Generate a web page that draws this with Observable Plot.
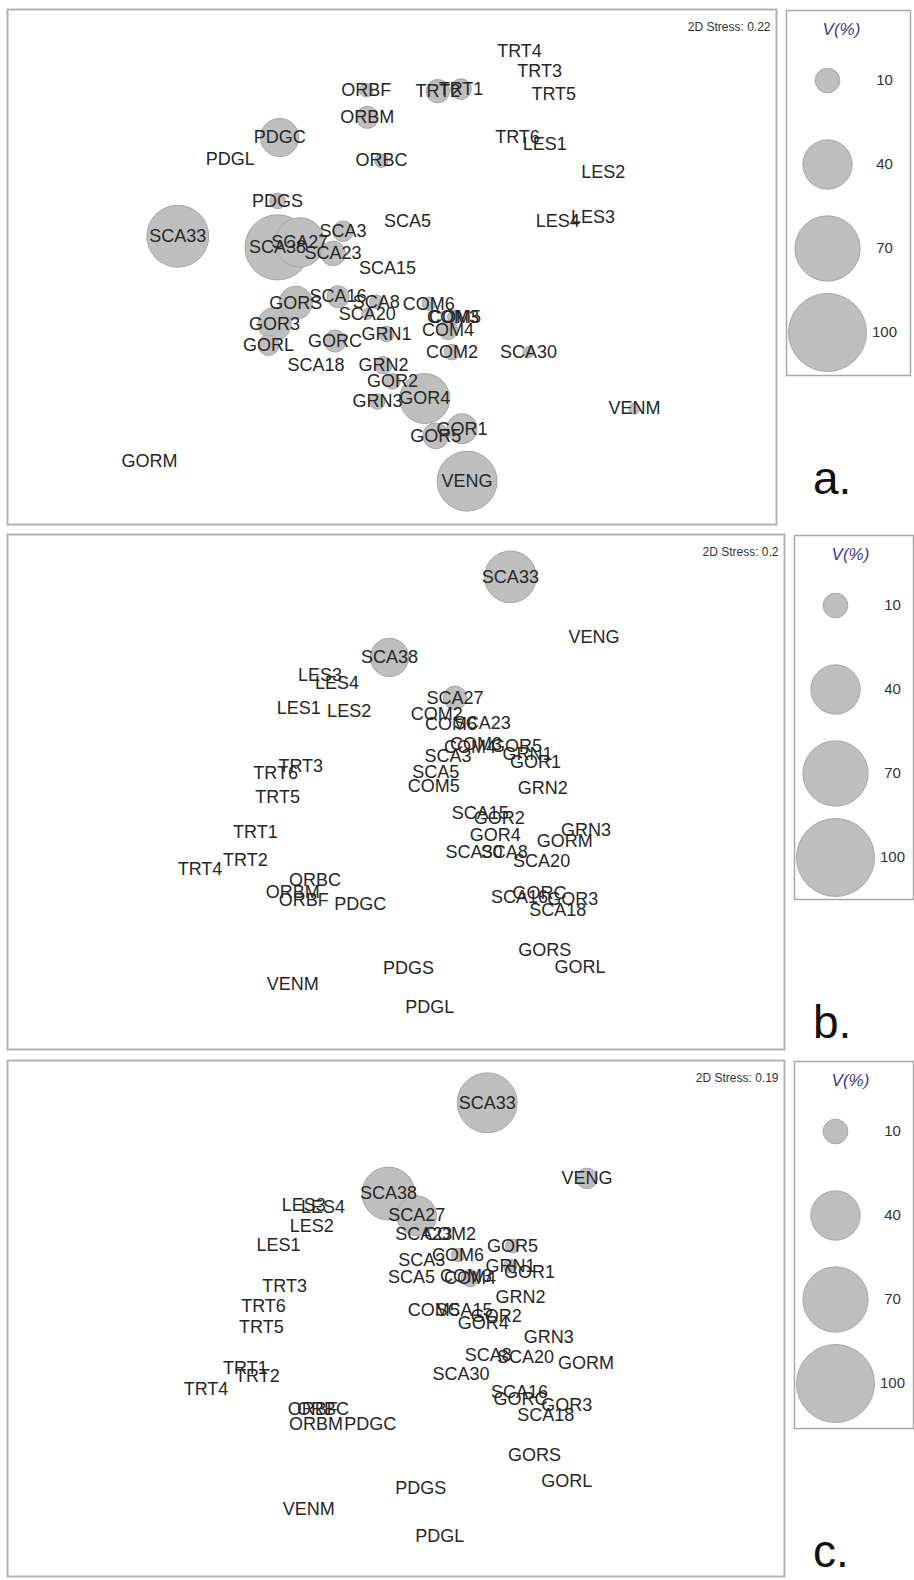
<!DOCTYPE html>
<html>
<head>
<meta charset="utf-8">
<script src="https://cdn.jsdelivr.net/npm/d3@7"></script>
<script src="https://cdn.jsdelivr.net/npm/@observablehq/plot@0.6"></script>
<style>
  body { margin: 0; background: #fff; }
  #wrap { position: relative; width: 914px; height: 1580px; background: #fff; font-family: "Liberation Sans", Arial, sans-serif; }
  #wrap > div.slot { position: absolute; }
  .tag { position: absolute; font-size: 46px; color: #111; line-height: 1; font-family: "Liberation Sans", Arial, sans-serif; }
</style>
</head>
<body>
<div id="wrap"></div>
<script>
// Site names (shared by the three ordinations)
const names = ["TRT1","TRT2","TRT3","TRT4","TRT5","TRT6","LES1","LES2","LES3","LES4","ORBF","ORBM","ORBC","PDGC","PDGL","PDGS","SCA3","SCA5","SCA8","SCA15","SCA16","SCA18","SCA20","SCA23","SCA27","SCA30","SCA33","SCA38","COM2","COM3","COM4","COM5","COM6","GRN1","GRN2","GRN3","GOR1","GOR2","GOR3","GOR4","GOR5","GORC","GORL","GORM","GORS","VENG","VENM"];

// Panel a: MDS coordinates and V(%)
const ax = [0.67,0.44,1.45,1.25,1.59,1.23,1.50,2.08,1.98,1.63,-0.27,-0.26,-0.12,-1.13,-1.62,-1.15,-0.50,0.14,-0.17,-0.06,-0.55,-0.77,-0.26,-0.60,-0.93,1.34,-2.14,-1.15,0.58,0.59,0.54,0.61,0.35,-0.07,-0.10,-0.16,0.68,-0.01,-1.18,0.31,0.42,-0.58,-1.24,-2.42,-0.97,0.73,2.39];
const ay = [1.77,1.75,1.95,2.15,1.72,1.29,1.22,0.95,0.50,0.46,1.76,1.49,1.06,1.29,1.07,0.66,0.36,0.46,-0.34,-0.01,-0.29,-0.97,-0.46,0.14,0.25,-0.84,0.31,0.20,-0.84,-0.49,-0.62,-0.49,-0.36,-0.66,-0.97,-1.33,-1.60,-1.13,-0.56,-1.30,-1.67,-0.73,-0.77,-1.92,-0.35,-2.12,-1.40];
const av = [7,9,0,0,0,0,0,0,0,0,3,8,3,24,0,4,7,0,3,0,8,0,2,10,40,2,63,70,4,2,6,3,3,4,5,4,15,4,18,41,11,8,7,0,18,59,2];

// Panel b
const bx = [-1.37,-1.47,-0.92,-1.92,-1.15,-1.17,-0.94,-0.44,-0.73,-0.56,-0.89,-1.00,-0.78,-0.33,0.36,0.15,0.54,0.42,1.10,0.86,1.25,1.63,1.47,0.88,0.61,0.80,1.16,-0.04,0.43,0.82,0.76,0.40,0.57,1.33,1.48,1.91,1.41,1.05,1.78,1.01,1.22,1.45,1.85,1.70,1.50,1.99,-1.00];
const by = [-0.40,-0.68,0.25,-0.77,-0.06,0.18,0.83,0.80,1.15,1.07,-1.08,-1.00,-0.88,-1.12,-2.14,-1.75,0.35,0.19,-0.60,-0.22,-1.05,-1.18,-0.69,0.68,0.93,-0.60,2.13,1.33,0.77,0.47,0.44,0.05,0.67,0.37,0.03,-0.38,0.29,-0.27,-1.07,-0.43,0.45,-1.01,-1.74,-0.49,-1.58,1.53,-1.91];
const bv = [0,0,0,0,0,0,0,0,0,0,0,0,0,0,0,0,0,0,0,0,0,0,0,0,9,0,44,24,0,0,0,0,0,0,0,0,0,0,0,0,0,0,0,0,0,0,0];

// Panel c
const cx = [-1.47,-1.35,-1.08,-1.86,-1.31,-1.29,-1.14,-0.81,-0.89,-0.70,-0.80,-0.77,-0.70,-0.23,0.46,0.27,0.28,0.18,0.94,0.70,1.25,1.51,1.31,0.30,0.23,0.67,0.93,-0.05,0.56,0.72,0.76,0.40,0.64,1.16,1.26,1.54,1.35,1.02,1.72,0.89,1.18,1.26,1.72,1.91,1.40,1.92,-0.84];
const cy = [-0.50,-0.58,0.31,-0.71,-0.10,0.11,0.72,0.91,1.11,1.09,-0.91,-1.06,-0.91,-1.06,-2.17,-1.69,0.57,0.40,-0.37,0.07,-0.74,-0.97,-0.39,0.83,1.01,-0.56,2.13,1.23,0.83,0.41,0.39,0.07,0.62,0.51,0.20,-0.20,0.45,0.01,-0.87,-0.06,0.71,-0.81,-1.62,-0.45,-1.37,1.38,-1.90];
const cv = [0,0,0,0,0,0,0,0,0,0,0,0,0,0,0,0,0,0,0,0,0,0,0,0,26,0,59,46,0,0,5,0,3,3,0,0,0,0,0,0,3,0,0,0,0,7,0];

const stress = ["2D Stress: 0.22", "2D Stress: 0.2", "2D Stress: 0.19"];
const panelTags = ["a.", "b.", "c."];
const legendValues = [10, 40, 70, 100];
const legendTitle = "V(%)";

const FONT = "Liberation Sans, Arial, sans-serif";
const rScale = {type: "sqrt", domain: [0, 100], range: [0, 39]};

const panels = [
  {x: ax, y: ay, v: av, box: [6, 8, 771, 517], xd: [-3.84, 3.81], yd: [-2.56, 2.57],
   legend: [785, 9, 126, 367], dotX: 42, labX: 99, titleX: 56, tag: [813, 455]},
  {x: bx, y: by, v: bv, box: [6, 533, 779, 517], xd: [-3.84, 3.89], yd: [-2.57, 2.56],
   legend: [793, 534, 121, 366], dotX: 42, labX: 99, titleX: 57, tag: [813, 999]},
  {x: cx, y: cy, v: cv, box: [6, 1059, 779, 518], xd: [-3.84, 3.89], yd: [-2.58, 2.56],
   legend: [793, 1060, 121, 369], dotX: 42, labX: 99, titleX: 57, tag: [813, 1528]}
];

const wrap = document.getElementById("wrap");
function place(node, left, top) {
  const d = document.createElement("div");
  d.className = "slot";
  d.style.left = left + "px";
  d.style.top = top + "px";
  d.appendChild(node);
  wrap.appendChild(d);
}

panels.forEach((p, i) => {
  const data = names.map((n, k) => ({name: n, x: p.x[k], y: p.y[k], v: p.v[k]}));
  const [left, top, w, h] = p.box;
  const chart = Plot.plot({
    width: w, height: h, margin: 0,
    x: {domain: p.xd, axis: null},
    y: {domain: p.yd, axis: null},
    r: rScale,
    style: {fontFamily: FONT, background: "transparent", overflow: "visible"},
    marks: [
      Plot.frame({stroke: "#b3b3b3", strokeWidth: 2, inset: 1}),
      Plot.dot(data.filter(d => d.v > 0), {x: "x", y: "y", r: "v", fill: "#bebebe", stroke: "#a6a6a6", strokeWidth: 1}),
      Plot.text(data, {x: "x", y: "y", text: "name", fontSize: 18, fill: "#262626", fontFamily: FONT}),
      Plot.text([stress[i]], {frameAnchor: "top-right", dx: -7, dy: 14, text: d => d, fontSize: 12, fill: "#333", fontFamily: FONT})
    ]
  });
  place(chart, left, top);

  const [ll, lt, lw, lh] = p.legend;
  const leg = Plot.plot({
    width: lw, height: lh, margin: 0,
    x: {axis: null},
    y: {type: "point", domain: legendValues, range: [70, 324], padding: 0, axis: null},
    r: rScale,
    style: {fontFamily: FONT, background: "transparent", overflow: "visible"},
    marks: [
      Plot.frame({stroke: "#a8a8a8", strokeWidth: 1.5, inset: 1}),
      Plot.dot(legendValues, {y: d => d, r: d => d, frameAnchor: "left", dx: p.dotX, fill: "#bebebe", stroke: "#a6a6a6", strokeWidth: 1}),
      Plot.text(legendValues, {y: d => d, text: d => String(d), frameAnchor: "left", dx: p.labX, textAnchor: "middle", fontSize: 15, fill: "#333", fontFamily: FONT}),
      Plot.text([legendTitle], {frameAnchor: "top-left", dx: p.titleX, dy: 13, text: d => d, textAnchor: "middle", fontSize: 17, fontStyle: "italic", fill: "#3b3b8f", fontFamily: FONT})
    ]
  });
  place(leg, ll, lt);

  const tag = document.createElement("div");
  tag.className = "tag";
  tag.textContent = panelTags[i];
  tag.style.left = p.tag[0] + "px";
  tag.style.top = p.tag[1] + "px";
  wrap.appendChild(tag);
});
</script>
</body>
</html>
